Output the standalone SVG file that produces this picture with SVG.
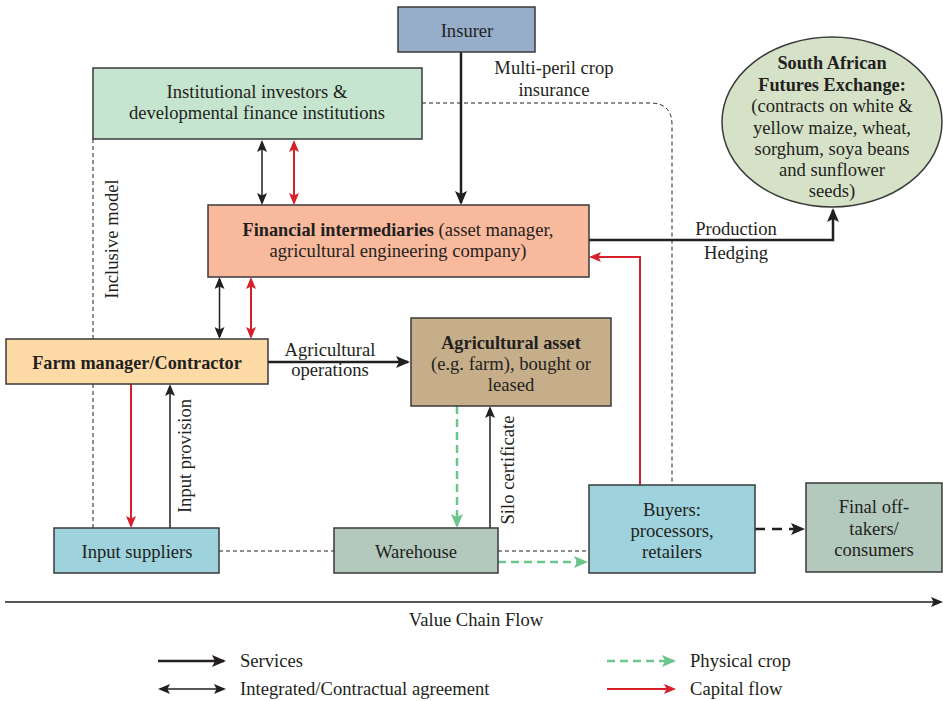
<svg xmlns="http://www.w3.org/2000/svg" width="943" height="701" viewBox="0 0 943 701" font-family="Liberation Serif, Times New Roman, serif" font-size="18.6">
<style>
text{fill:#231f20}
.c{text-anchor:middle}
.b{font-weight:bold;font-size:18.3px}
.box{stroke:#3a3a3a;stroke-width:1.5}
.dash{fill:none;stroke:#231f20;stroke-width:1;stroke-dasharray:4 3}
.blk{fill:none;stroke:#231f20;stroke-width:2.5}
.thin{fill:none;stroke:#231f20;stroke-width:1.5}
.red{fill:none;stroke:#d7202a;stroke-width:2}
.grn{fill:none;stroke:#6cc58c;stroke-width:2.5;stroke-dasharray:8 5}
</style>
<defs>
<marker id="ab" viewBox="0 0 14 12" refX="12" refY="6" markerWidth="14" markerHeight="12" orient="auto-start-reverse" markerUnits="userSpaceOnUse"><path d="M0,0 L14,6 L0,12 L3,6z" fill="#231f20"/></marker>
<marker id="as" viewBox="0 0 12 10" refX="10" refY="5" markerWidth="12" markerHeight="10" orient="auto-start-reverse" markerUnits="userSpaceOnUse"><path d="M0,0 L12,5 L0,10 L2.5,5z" fill="#231f20"/></marker>
<marker id="ar" viewBox="0 0 12 10" refX="10" refY="5" markerWidth="12" markerHeight="10" orient="auto-start-reverse" markerUnits="userSpaceOnUse"><path d="M0,0 L12,5 L0,10 L2.5,5z" fill="#d7202a"/></marker>
<marker id="ag" viewBox="0 0 14 12" refX="12" refY="6" markerWidth="14" markerHeight="12" orient="auto" markerUnits="userSpaceOnUse"><path d="M0,0 L14,6 L0,12 L3,6z" fill="#6cc58c"/></marker>
</defs>

<g id="connectors">
<path class="dash" d="M93,139 V528"/>
<path class="dash" d="M422,103 H650 Q672,103 672,125 V485"/>
<path class="dash" d="M219,551 H334" stroke-dasharray="3 3"/>
<path class="dash" d="M498,551 H589" stroke-dasharray="3 3"/>
<path class="blk" d="M461,52 V203" marker-end="url(#ab)"/>
<path class="thin" d="M262,142 V203" marker-start="url(#as)" marker-end="url(#as)"/>
<path class="red" d="M294,142 V203" marker-start="url(#ar)" marker-end="url(#ar)"/>
<path class="thin" d="M219.5,279 V337" marker-start="url(#as)" marker-end="url(#as)"/>
<path class="red" d="M251,279 V337" marker-start="url(#ar)" marker-end="url(#ar)"/>
<path class="blk" d="M589,240 H833 V210" marker-end="url(#ab)"/>
<path class="red" d="M640,485 V257 H591" marker-end="url(#ar)"/>
<path class="blk" d="M268,362 H408" marker-end="url(#ab)"/>
<path class="red" d="M131,384 V526" marker-end="url(#ar)"/>
<path class="thin" d="M170,528 V386" marker-end="url(#as)"/>
<path class="grn" d="M457,406 V526" marker-end="url(#ag)"/>
<path class="thin" d="M490,528 V408" marker-end="url(#as)"/>
<path class="grn" d="M498,562 H586" marker-end="url(#ag)"/>
<path class="blk" d="M755,529 H803" stroke-width="3" stroke-dasharray="10 7" marker-end="url(#ab)"/>
<path class="thin" d="M5,602 H941" marker-end="url(#as)"/>
</g>

<g id="labels">
<text class="c" x="554" y="74">Multi-peril crop</text>
<text class="c" x="554" y="96">insurance</text>
<text class="c" x="736" y="235">Production</text>
<text class="c" x="736" y="259">Hedging</text>
<text class="c" x="330" y="356">Agricultural</text>
<text class="c" x="330" y="376">operations</text>
<text class="c" x="118" y="239" transform="rotate(-90 118 239)">Inclusive model</text>
<text class="c" x="191" y="456" transform="rotate(-90 191 456)">Input provision</text>
<text class="c" x="514" y="470" transform="rotate(-90 514 470)">Silo certificate</text>
<text class="c" x="476" y="626">Value Chain Flow</text>
</g>

<g id="insurer">
<rect class="box" x="398" y="7" width="137" height="45" fill="#97aecb"/>
<text class="c" x="467" y="37">Insurer</text>
</g>

<g id="institutional">
<rect class="box" x="93" y="68" width="329" height="71" fill="#c6e5cf"/>
<text class="c" x="257" y="98">Institutional investors &amp;</text>
<text class="c" x="257" y="119">developmental finance institutions</text>
</g>

<g id="safex">
<ellipse class="box" cx="832" cy="122" rx="110" ry="85" fill="#d6e2c8"/>
<text class="c b" x="832" y="69">South African</text>
<text class="c b" x="832" y="91">Futures Exchange:</text>
<text class="c" x="832" y="112">(contracts on white &amp;</text>
<text class="c" x="832" y="134">yellow maize, wheat,</text>
<text class="c" x="832" y="155">sorghum, soya beans</text>
<text class="c" x="832" y="176">and sunflower</text>
<text class="c" x="832" y="197">seeds)</text>
</g>

<g id="financial">
<rect class="box" x="208" y="205" width="381" height="72" fill="#f9b99d"/>
<text class="c" x="398" y="236"><tspan class="b">Financial intermediaries</tspan> (asset manager,</text>
<text class="c" x="398" y="257">agricultural engineering company)</text>
</g>

<g id="farm-manager">
<rect class="box" x="6" y="339" width="262" height="45" fill="#fddaa6"/>
<text class="c b" x="137" y="369">Farm manager/Contractor</text>
</g>

<g id="asset">
<rect class="box" x="411" y="318" width="200" height="88" fill="#c7ae8b"/>
<text class="c b" x="511" y="349">Agricultural asset</text>
<text class="c" x="511" y="370">(e.g. farm), bought or</text>
<text class="c" x="511" y="391">leased</text>
</g>

<g id="input-suppliers">
<rect class="box" x="54" y="528" width="165" height="45" fill="#9ed2dc"/>
<text class="c" x="137" y="558">Input suppliers</text>
</g>

<g id="warehouse">
<rect class="box" x="334" y="528" width="164" height="45" fill="#b3c9bd"/>
<text class="c" x="416" y="558">Warehouse</text>
</g>

<g id="buyers">
<rect class="box" x="589" y="485" width="166" height="88" fill="#9ed2dc"/>
<text class="c" x="672" y="516">Buyers:</text>
<text class="c" x="672" y="537">processors,</text>
<text class="c" x="672" y="558">retailers</text>
</g>

<g id="final">
<rect class="box" x="806" y="483" width="136" height="89" fill="#b3c9bd"/>
<text class="c" x="874" y="513">Final off-</text>
<text class="c" x="874" y="535">takers/</text>
<text class="c" x="874" y="556">consumers</text>
</g>

<g id="legend">
<path class="blk" d="M158,661 H224" marker-end="url(#ab)"/>
<text x="240" y="667">Services</text>
<path class="thin" d="M160,689 H224" marker-start="url(#as)" marker-end="url(#as)"/>
<text x="240" y="695">Integrated/Contractual agreement</text>
<path class="grn" d="M607,661 H674" marker-end="url(#ag)"/>
<text x="690" y="667">Physical crop</text>
<path class="red" d="M607,689 H674" stroke-width="2.5" marker-end="url(#ar)"/>
<text x="690" y="695">Capital flow</text>
</g>
</svg>
